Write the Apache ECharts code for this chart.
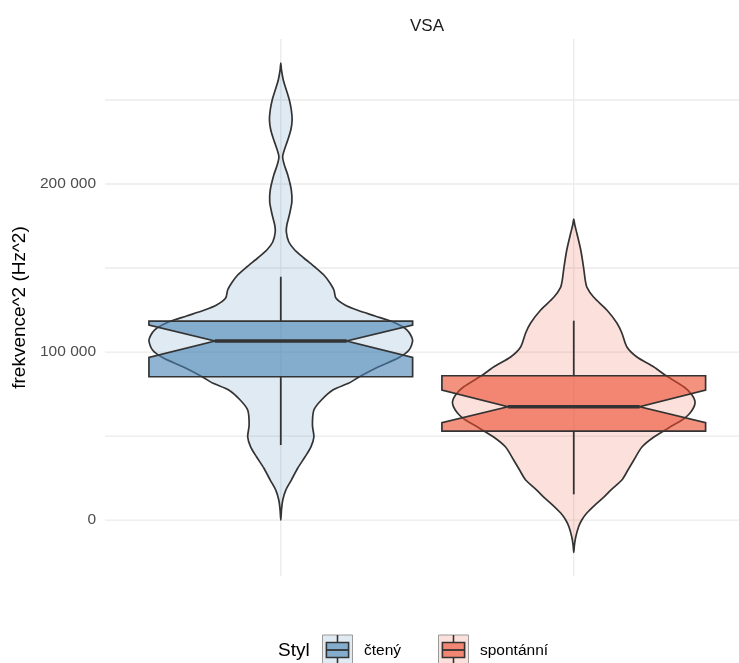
<!DOCTYPE html>
<html>
<head>
<meta charset="utf-8">
<script src="https://cdn.jsdelivr.net/npm/echarts@6/dist/echarts.min.js"></script>
<style>
  html, body { margin: 0; padding: 0; background: #ffffff; }
  #chart { width: 739px; height: 663px; }
</style>
</head>
<body>
<div id="chart"></div>
<script>
// ---- data ----
const categories = ['čtený', 'spontánní'];
const panelTitle = 'VSA';
const yAxisTitle = 'frekvence^2 (Hz^2)';
const legendTitle = 'Styl';
const yTickValues = [0, 100000, 200000];
const yGridValues = [0, 50000, 100000, 150000, 200000, 250000];

// kernel density outline: positions along the value axis and relative density
const ctenyViolinY = [272024, 267857, 261905, 255952, 250000, 244048, 238095, 232143, 226190, 220238,
  216071, 211310, 205357, 196429, 189286, 181548, 175595, 171429, 165476, 160714,
  155952, 150595, 145833, 141071, 136905, 132143, 127976, 125000, 121429, 117857,
  113095, 107143, 101190, 96429, 91071, 85119, 81548, 77381, 71429, 65476,
  56548, 49405, 43452, 37500, 30952, 23810, 17857, 11905, 5952, 0];
const ctenyViolinDensity = [0, 0.005, 0.019, 0.042, 0.065, 0.080, 0.086, 0.076, 0.053, 0.027,
  0.014, 0.027, 0.053, 0.080, 0.084, 0.065, 0.046, 0.042, 0.061, 0.106,
  0.175, 0.259, 0.327, 0.373, 0.403, 0.418, 0.487, 0.578, 0.715, 0.852,
  0.958, 1.000, 0.973, 0.890, 0.738, 0.593, 0.517, 0.395, 0.308, 0.251,
  0.240, 0.251, 0.228, 0.183, 0.129, 0.080, 0.038, 0.015, 0.005, 0];

const spontanniViolinY = [179167, 175595, 170833, 160714, 150595, 142857, 138690, 132738, 125000, 117262,
  111310, 102976, 97024, 91071, 86310, 79167, 74405, 69643, 63690, 59524,
  55357, 49405, 43452, 35714, 29762, 23810, 17857, 13690, 8929, 4167,
  0, -4167, -10119, -14881, -19226];
const spontanniViolinDensity = [0, 0.008, 0.023, 0.053, 0.074, 0.087, 0.099, 0.150, 0.251, 0.327,
  0.365, 0.403, 0.479, 0.608, 0.692, 0.837, 0.897, 0.920, 0.882, 0.821,
  0.730, 0.608, 0.517, 0.456, 0.411, 0.365, 0.281, 0.228, 0.160, 0.099,
  0.061, 0.036, 0.015, 0.005, 0];

// box statistics: lower whisker, Q1, notch low, median, notch high, Q3, upper whisker
const ctenyBox = [44640, 85300, 96850, 106550, 116070, 118450, 144800];
const spontanniBox = [15300, 52980, 57940, 67440, 77380, 85890, 118640];

// ---- styling ----
const FONT = "'Liberation Sans', Arial, Helvetica, sans-serif";
const OUTLINE = '#333333';
const GRID_COLOR = '#ebebeb';
// the discrete scale runs from 0.4 to 2.6; the canvas cuts the panel a little short on the right
const X_MIN = 0.4, X_MAX = 2.564;
const VIOLIN_HALF = 0.45;   // half of violin width (0.9)
const BOX_HALF = 0.45;      // half of box width
const NOTCH_RATIO = 0.5;

const groups = [
  { y: ctenyViolinY, d: ctenyViolinDensity, box: ctenyBox,
    violinFill: 'rgba(70,130,180,0.17)', boxFill: 'rgba(70,130,180,0.6)' },
  { y: spontanniViolinY, d: spontanniViolinDensity, box: spontanniBox,
    violinFill: 'rgba(236,74,44,0.17)', boxFill: 'rgba(236,74,44,0.6)' }
];

function formatThousands(v) {
  return String(v).replace(/\B(?=(\d{3})+(?!\d))/g, ' ');
}

function renderHGrid(params, api) {
  const v = api.value(1);
  const a = api.coord([X_MIN, v]);
  const b = api.coord([X_MAX, v]);
  return { type: 'line', shape: { x1: a[0], y1: a[1], x2: b[0], y2: b[1] },
    style: { stroke: GRID_COLOR, lineWidth: 1.3 }, silent: true };
}

function renderVGrid(params, api) {
  const x = api.value(0);
  const cs = params.coordSys;
  const px = api.coord([x, 0])[0];
  return { type: 'line', shape: { x1: px, y1: cs.y, x2: px, y2: cs.y + cs.height },
    style: { stroke: GRID_COLOR, lineWidth: 1.3 }, silent: true };
}

function renderViolin(params, api) {
  const g = groups[params.dataIndex];
  const cx = api.value(0);
  const right = [], left = [];
  for (let i = 0; i < g.y.length; i++) {
    const hw = g.d[i] * VIOLIN_HALF;
    right.push(api.coord([cx + hw, g.y[i]]));
    left.push(api.coord([cx - hw, g.y[i]]));
  }
  left.reverse();
  const pts = right.concat(left.slice(1, left.length - 1));
  return { type: 'polygon', shape: { points: pts, smooth: 0.25 },
    style: { fill: g.violinFill, stroke: OUTLINE, lineWidth: 1.7, lineJoin: 'round' } };
}

function renderBox(params, api) {
  const g = groups[params.dataIndex];
  const cx = api.value(0);
  const [lw, q1, nlo, med, nhi, q3, uw] = g.box;
  const c = (x, y) => api.coord([x, y]);
  const L = cx - BOX_HALF, R = cx + BOX_HALF;
  const nL = cx - BOX_HALF * NOTCH_RATIO, nR = cx + BOX_HALF * NOTCH_RATIO;
  const upTop = c(cx, uw), upBot = c(cx, q3);
  const loTop = c(cx, q1), loBot = c(cx, lw);
  const box = [c(L, q3), c(R, q3), c(R, nhi), c(nR, med), c(R, nlo), c(R, q1),
               c(L, q1), c(L, nlo), c(nL, med), c(L, nhi)];
  const m1 = c(nL, med), m2 = c(nR, med);
  return { type: 'group', children: [
    { type: 'line', shape: { x1: upTop[0], y1: upTop[1], x2: upBot[0], y2: upBot[1] },
      style: { stroke: OUTLINE, lineWidth: 1.8 } },
    { type: 'line', shape: { x1: loTop[0], y1: loTop[1], x2: loBot[0], y2: loBot[1] },
      style: { stroke: OUTLINE, lineWidth: 1.8 } },
    { type: 'polygon', shape: { points: box },
      style: { fill: g.boxFill, stroke: OUTLINE, lineWidth: 1.7, lineJoin: 'miter' } },
    { type: 'line', shape: { x1: m1[0], y1: m1[1], x2: m2[0], y2: m2[1] },
      style: { stroke: OUTLINE, lineWidth: 3.4 } }
  ]};
}

// legend key drawn as a small violin swatch with a box glyph inside
function legendKey(x, y, g) {
  const w = 30, h = 30;
  return { type: 'group', x: x, y: y, children: [
    { type: 'rect', shape: { x: 0, y: 0, width: w, height: h },
      style: { fill: g.violinFill, stroke: '#9a9a9a', lineWidth: 1 } },
    { type: 'line', shape: { x1: w / 2, y1: 0, x2: w / 2, y2: h * 0.25 },
      style: { stroke: OUTLINE, lineWidth: 1.6 } },
    { type: 'line', shape: { x1: w / 2, y1: h * 0.75, x2: w / 2, y2: h },
      style: { stroke: OUTLINE, lineWidth: 1.6 } },
    { type: 'rect', shape: { x: w * 0.13, y: h * 0.25, width: w * 0.74, height: h * 0.5 },
      style: { fill: g.boxFill, stroke: OUTLINE, lineWidth: 1.6 } },
    { type: 'line', shape: { x1: w * 0.13, y1: h / 2, x2: w * 0.87, y2: h / 2 },
      style: { stroke: OUTLINE, lineWidth: 1.8 } }
  ]};
}

const chart = echarts.init(document.getElementById('chart'), null, { renderer: 'canvas' });

chart.setOption({
  animation: false,
  backgroundColor: '#ffffff',
  textStyle: { fontFamily: FONT },
  grid: { left: 105, top: 39, right: 0, height: 537, containLabel: false },
  xAxis: {
    type: 'value', min: X_MIN, max: X_MAX,
    axisLine: { show: false }, axisTick: { show: false },
    axisLabel: { show: false }, splitLine: { show: false }
  },
  yAxis: {
    type: 'value', min: -33300, max: 286300,
    name: yAxisTitle, nameLocation: 'middle', nameGap: 68, nameRotate: 90,
    nameTextStyle: { color: '#000000', fontSize: 19, fontFamily: FONT },
    axisLine: { show: false }, axisTick: { show: false },
    splitLine: { show: false },
    axisLabel: {
      customValues: yTickValues,
      formatter: (v) => formatThousands(v),
      color: '#4d4d4d', fontSize: 15.5, margin: 9, fontFamily: FONT
    }
  },
  graphic: [
    { type: 'text', x: 427, y: 26, style: { text: panelTitle, fill: '#1a1a1a',
      font: '17px ' + FONT, textAlign: 'center', textVerticalAlign: 'middle' } },
    { type: 'text', x: 278, y: 651, style: { text: legendTitle, fill: '#000000',
      font: '19px ' + FONT, textAlign: 'left', textVerticalAlign: 'middle' } },
    legendKey(322.5, 635, groups[0]),
    { type: 'text', x: 364, y: 651, style: { text: categories[0], fill: '#000000',
      font: '15.5px ' + FONT, textAlign: 'left', textVerticalAlign: 'middle' } },
    legendKey(438.5, 635, groups[1]),
    { type: 'text', x: 480, y: 651, style: { text: categories[1], fill: '#000000',
      font: '15.5px ' + FONT, textAlign: 'left', textVerticalAlign: 'middle' } }
  ],
  series: [
    { type: 'custom', name: 'hgrid', renderItem: renderHGrid, silent: true, z: 0,
      data: yGridValues.map(v => [1, v]), clip: false },
    { type: 'custom', name: 'vgrid', renderItem: renderVGrid, silent: true, z: 0,
      data: categories.map((c, i) => [i + 1, 0]), clip: false },
    { type: 'custom', name: 'violin', renderItem: renderViolin, z: 2,
      data: categories.map((c, i) => [i + 1, 0]), clip: false },
    { type: 'custom', name: 'box', renderItem: renderBox, z: 3,
      data: categories.map((c, i) => [i + 1, 0]), clip: false }
  ]
});
</script>
</body>
</html>
